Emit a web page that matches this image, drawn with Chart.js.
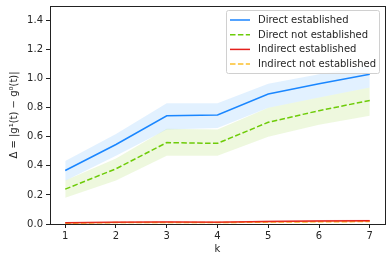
<!DOCTYPE html>
<html>
<head>
<meta charset="utf-8">
<script src="https://cdn.jsdelivr.net/npm/chart.js@4"></script>
<style>
  html, body { margin: 0; padding: 0; background: #fff; }
  #wrap { width: 392px; height: 262px; }
</style>
</head>
<body>
<div id="wrap"><canvas id="myChart" width="392" height="262"></canvas></div>
<script>
const kValues = [1, 2, 3, 4, 5, 6, 7];
const yTicks = [0, 0.2, 0.4, 0.6, 0.8, 1.0, 1.2, 1.4];

const directEst = [0.368, 0.547, 0.745, 0.750, 0.894, 0.965, 1.030];
const directEstHi = [0.434, 0.620, 0.830, 0.830, 0.965, 1.030, 1.090];
const directEstLo = [0.297, 0.470, 0.650, 0.660, 0.800, 0.870, 0.940];

const directNot = [0.240, 0.380, 0.560, 0.555, 0.700, 0.780, 0.850];
const directNotHi = [0.300, 0.450, 0.655, 0.650, 0.800, 0.870, 0.940];
const directNotLo = [0.180, 0.300, 0.470, 0.470, 0.600, 0.683, 0.745];

const indirectEst = [0.008, 0.012, 0.013, 0.012, 0.018, 0.020, 0.023];
const indirectEstHi = [0.012, 0.017, 0.018, 0.017, 0.024, 0.027, 0.030];
const indirectEstLo = [0.004, 0.008, 0.009, 0.008, 0.012, 0.014, 0.016];

const indirectNot = [0.005, 0.010, 0.010, 0.010, 0.013, 0.015, 0.017];
const indirectNotHi = [0.008, 0.014, 0.014, 0.014, 0.017, 0.019, 0.021];
const indirectNotLo = [0.002, 0.006, 0.006, 0.006, 0.009, 0.011, 0.013];

const toPoints = arr => arr.map((v, i) => ({ x: kValues[i], y: v }));

function band(hi, lo, color) {
    return [{
        label: '_band',
        data: toPoints(hi),
        borderWidth: 0,
        pointRadius: 0,
        backgroundColor: color,
        fill: '+1',
        showLine: true
    }, {
        label: '_band',
        data: toPoints(lo),
        borderWidth: 0,
        pointRadius: 0,
        backgroundColor: color,
        fill: false,
        showLine: true
    }];
}

function series(label, values, color, dashed) {
    return {
        label: label,
        data: toPoints(values),
        borderColor: color,
        backgroundColor: color,
        borderWidth: 1.5,
        borderDash: dashed ? [5.5, 2.4] : [],
        pointRadius: 0,
        fill: false,
        showLine: true
    };
}

const fontFamily = '"DejaVu Sans", sans-serif';

// matplotlib style legend inside the axes, plus the full frame
const frameLegend = {
    id: 'frameLegend',
    afterDraw(chart) {
        const c = chart.ctx;
        const a = chart.chartArea;
        c.save();
        c.strokeStyle = '#222';
        c.lineWidth = 1;
        c.strokeRect(Math.round(a.left) + 0.5, Math.round(a.top) + 0.5,
            Math.round(a.right - a.left), Math.round(a.bottom - a.top));

        const items = chart.data.datasets.filter(d => d.label !== '_band');
        const bx = 226.5, by = 10.5, bw = 153, bh = 63;
        c.fillStyle = 'rgba(255,255,255,0.8)';
        c.strokeStyle = '#d0d0d0';
        c.lineWidth = 1;
        c.beginPath();
        c.roundRect(bx, by, bw, bh, 2);
        c.fill();
        c.stroke();
        c.font = '10px ' + fontFamily;
        c.textBaseline = 'middle';
        items.forEach((d, i) => {
            const y = 20 + i * 14.7;
            c.strokeStyle = d.borderColor;
            c.lineWidth = 1.5;
            c.setLineDash(d.borderDash);
            c.beginPath();
            c.moveTo(230, y);
            c.lineTo(250, y);
            c.stroke();
            c.setLineDash([]);
            c.fillStyle = '#262626';
            c.fillText(d.label, 258, y + 0.5);
        });
        c.restore();
    }
};

const ctx = document.getElementById('myChart');
const chart = new Chart(ctx, {
    type: 'scatter',
    data: {
        datasets: [
            ...band(directEstHi, directEstLo, 'rgba(30,144,255,0.13)'),
            ...band(directNotHi, directNotLo, 'rgba(124,204,0,0.13)'),
            ...band(indirectEstHi, indirectEstLo, 'rgba(228,26,28,0.2)'),
            ...band(indirectNotHi, indirectNotLo, 'rgba(251,192,45,0.2)'),
            series('Direct established', directEst, '#1a85ff', false),
            series('Direct not established', directNot, '#6ccc0a', true),
            series('Indirect established', indirectEst, '#e4201c', false),
            series('Indirect not established', indirectNot, '#fbc02d', true)
        ]
    },
    options: {
        responsive: false,
        animation: false,
        layout: { padding: { top: 6, right: 7, left: 8, bottom: 7 } },
        plugins: {
            legend: { display: false },
            tooltip: { enabled: false }
        },
        scales: {
            x: {
                type: 'linear',
                min: 0.7,
                max: 7.3,
                afterBuildTicks: axis => { axis.ticks = kValues.map(v => ({ value: v })); },
                afterFit: axis => { axis.height = 31; axis.paddingLeft = 0; axis.paddingRight = 0; },
                ticks: {
                    color: '#262626',
                    font: { family: fontFamily, size: 10 },
                    padding: 2,
                    maxRotation: 0,
                    callback: v => String(v)
                },
                grid: { drawOnChartArea: false, drawTicks: true, tickLength: 4, color: '#222' },
                border: { color: '#222', width: 1 },
                title: {
                    display: true,
                    text: 'k',
                    color: '#262626',
                    font: { family: fontFamily, size: 10 },
                    padding: { top: 1, bottom: 0 }
                }
            },
            y: {
                min: 0,
                max: 1.5,
                afterBuildTicks: axis => { axis.ticks = yTicks.map(v => ({ value: v })); },
                afterFit: axis => { axis.width = 42; axis.paddingTop = 0; axis.paddingBottom = 0; },
                ticks: {
                    color: '#262626',
                    font: { family: fontFamily, size: 10 },
                    padding: 3,
                    callback: v => v.toFixed(1)
                },
                grid: { drawOnChartArea: false, drawTicks: true, tickLength: 4, color: '#222' },
                border: { color: '#222', width: 1 },
                title: {
                    display: true,
                    text: 'Δ = |g¹(t) − g⁰(t)|',
                    color: '#262626',
                    font: { family: fontFamily, size: 10 },
                    padding: { top: 0, bottom: 2 }
                }
            }
        }
    },
    plugins: [frameLegend]
});
</script>
</body>
</html>
